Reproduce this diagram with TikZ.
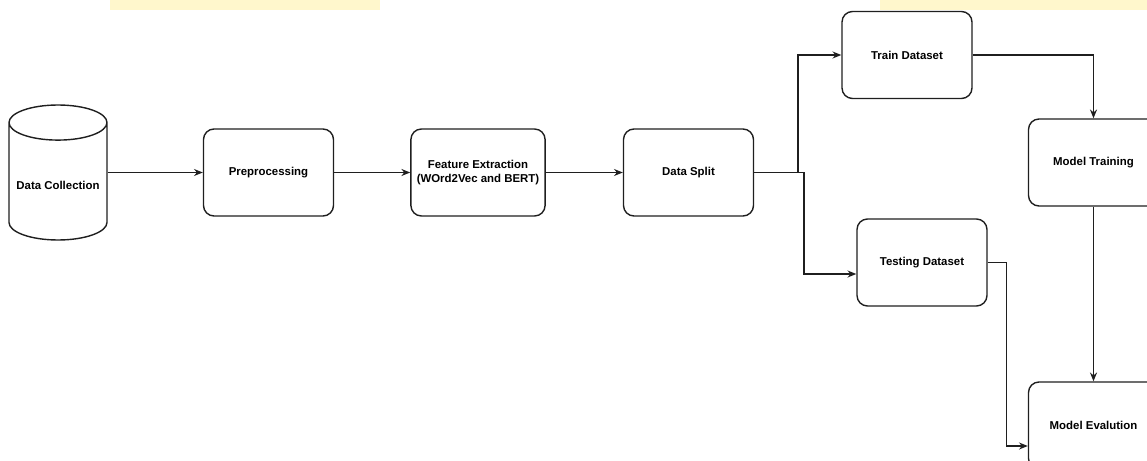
\documentclass[tikz,border=0pt]{standalone}
\usepackage{fontspec}
\setmainfont{Liberation Sans}
\usetikzlibrary{arrows.meta,calc,shapes.geometric}
\definecolor{LineClr}{rgb}{0.12,0.12,0.12}
\definecolor{BandClr}{rgb}{1,0.97,0.80}

\begin{document}
\begin{tikzpicture}[
  StepBox/.style={draw=LineClr,line width=0.8pt,rounded corners=6pt,
    minimum width=2.6cm,minimum height=1.74cm,align=center,
    font=\fontsize{6.5}{7.8}\selectfont\bfseries},
  StoreBox/.style={draw=LineClr,line width=0.8pt,shape=cylinder,
    shape border rotate=90,aspect=0.37,minimum width=1.96cm,
    minimum height=2.7cm,anchor=shape center,
    font=\fontsize{6.5}{7.8}\selectfont\bfseries},
  Flow/.style={draw=LineClr,line width=0.7pt,-{Stealth[length=5pt,width=4pt]}}]

\useasboundingbox (0,0) rectangle (22.94,9.2);
\clip (0,0) rectangle (22.94,9.2);

\fill[BandClr] (2.2,9.0) rectangle (7.6,9.2);
\fill[BandClr] (17.6,9.0) rectangle (22.94,9.2);

\node[StoreBox] (collect) at (1.16,5.75) {Data Collection};
\node[StepBox] (prep) at (5.37,5.75) {Preprocessing};
\node[StepBox] (feat) at (9.56,5.75) {Feature Extraction\\(WOrd2Vec and BERT)};
\node[StepBox] (split) at (13.77,5.75) {Data Split};
\node[StepBox] (train) at (18.14,8.1) {Train Dataset};
\node[StepBox] (test) at (18.44,3.95) {Testing Dataset};
\node[StepBox] (fit) at (21.87,5.95) {Model Training};
\node[StepBox] (eval) at (21.87,0.69) {Model Evalution};

\coordinate (upturn) at (15.96,5.75);
\coordinate (downturn) at (16.08,5.75);

\draw[Flow] (collect.east |- prep) -- (prep);
\draw[Flow] (prep) -- (feat);
\draw[Flow] (feat) -- (split);
\draw[Flow] (split.east) -- (downturn) |- ($(test.west)+(0,-0.23)$);
\draw[Flow] (upturn) |- (train.west);
\draw[Flow] (train.east) -| (fit.north);
\draw[Flow] (fit.south) -- (eval.north);
\draw[Flow] (test.east) -- ++(0.38,0) |- ($(eval.west)+(0,-0.41)$);

\end{tikzpicture}
\end{document}
